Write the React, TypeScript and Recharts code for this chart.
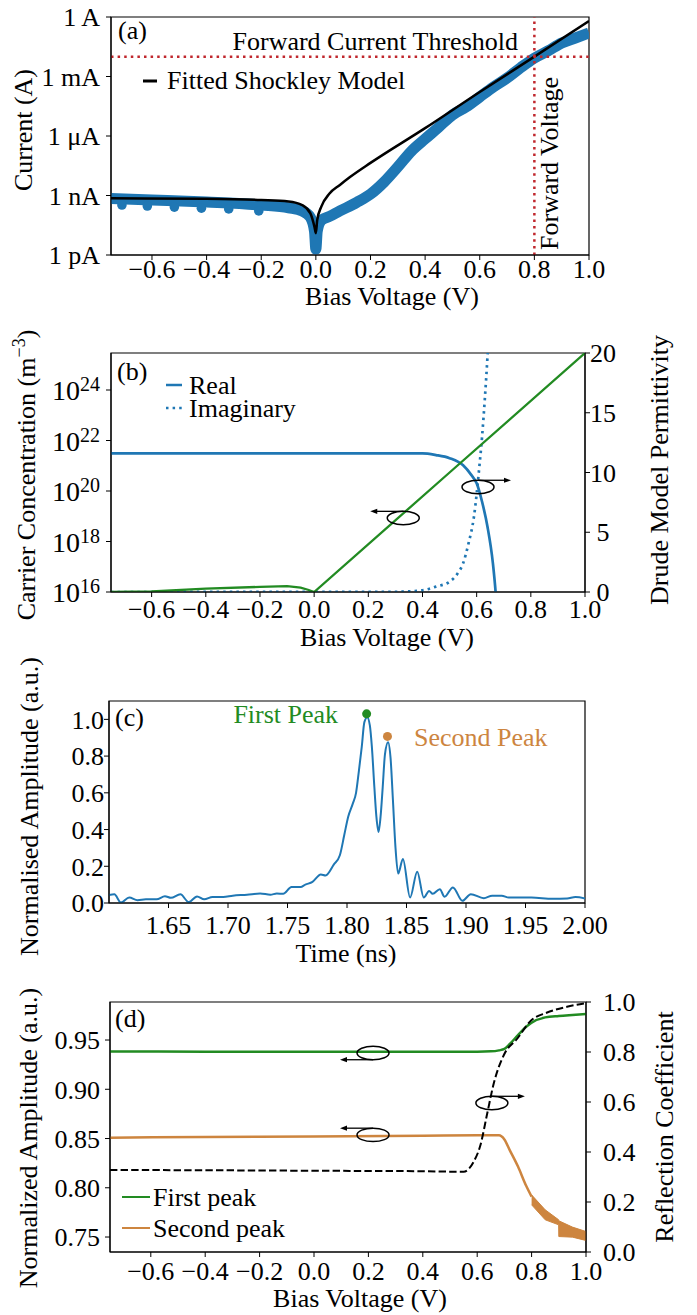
import React from 'react';
import {
  ComposedChart,
  Line,
  Area,
  XAxis,
  YAxis,
  ReferenceLine,
  ReferenceArea,
  ReferenceDot,
  Legend,
} from 'recharts';

const FONT = '"Liberation Serif", "Times New Roman", Times, serif';
const FS = 26;
const BLUE = '#1f77b4';
const GREEN = '#228b22';
const ORANGE = '#cd853f';
const RED = '#c0272d';

// ---------------- Panel (a): I-V curve ----------------
const biasDomain = [-0.75, 1.0];
const biasTicks = [-0.6, -0.4, -0.2, 0, 0.2, 0.4, 0.6, 0.8, 1.0];
const currentDomain = [1e-12, 1];
const currentTicks = [1e-12, 1e-9, 1e-6, 1e-3, 1];
const currentTickLabels = ['1 pA', '1 nA', '1 μA', '1 mA', '1 A'];
const measuredV = [-0.75, -0.6, -0.4, -0.2, -0.1, -0.05, -0.02, -0.005, 0, 0.005, 0.02, 0.05, 0.088, 0.15, 0.2, 0.25, 0.3, 0.35, 0.4, 0.45, 0.5, 0.55, 0.6, 0.65, 0.7, 0.75, 0.8, 0.85, 0.9, 0.95, 1.0];
const measuredI = [7.1e-10, 6.0e-10, 4.7e-10, 3.3e-10, 2.4e-10, 1.66e-10, 7.9e-11, 1.6e-11, 2.0e-12, 1.6e-11, 5.6e-11, 8.9e-11, 1.66e-10, 4.5e-10, 1.17e-9, 4.8e-9, 2.75e-8, 1.74e-7, 7.1e-7, 2.8e-6, 1.15e-5, 2.9e-5, 9.3e-5, 2.95e-4, 8.3e-4, 2.8e-3, 8.5e-3, 1.95e-2, 4.9e-2, 8.7e-2, 0.158];
const measuredDotV = [-0.71, -0.617, -0.518, -0.419, -0.319, -0.209];
const measuredDotI = [3.3e-10, 2.95e-10, 2.6e-10, 2.3e-10, 2.1e-10, 1.66e-10];
const fitV = [-0.75, -0.4, -0.2, -0.1, -0.05, -0.02, -0.005, 0, 0.005, 0.02, 0.05, 0.088, 0.125, 0.2, 0.4, 0.6, 0.8, 1.0];
const fitI = [7.2e-10, 6.8e-10, 5.9e-10, 5.0e-10, 3.3e-10, 1.26e-10, 2.6e-11, 1.26e-11, 5.8e-11, 2.75e-10, 1.26e-9, 3.4e-9, 8.5e-9, 4.4e-8, 2.5e-6, 1.66e-4, 1.0e-2, 0.63];
const thresholdCurrent = 0.01;
const forwardVoltage = 0.8;

// ---------------- Panel (b): carrier concentration & permittivity ----------------
const concDomain = [1e16, 2.92e25];
const concTicks = [1e16, 1e18, 1e20, 1e22, 1e24];
const permDomain = [0, 20];
const permTicks = [0, 5, 10, 15, 20];
const concV = [-0.75, -0.6, -0.4, -0.2, -0.1, -0.05, -0.02, 0, 0.5, 1.0];
const concN = [1.0e16, 1.05e16, 1.35e16, 1.6e16, 1.7e16, 1.5e16, 1.2e16, 1.0e16, 5.4e20, 2.92e25];
const realV = [-0.75, 0.4, 0.45, 0.5, 0.55, 0.58, 0.6, 0.62, 0.64, 0.66, 0.67, 0.69];
const realEps = [11.6, 11.6, 11.46, 11.2, 10.6, 9.8, 9.1, 7.55, 5.46, 2.4, 0, -8];
const imagV = [-0.75, 0.3, 0.4, 0.45, 0.5, 0.53, 0.55, 0.57, 0.59, 0.61, 0.62, 0.63, 0.64, 0.65];
const imagEps = [0, 0.02, 0.14, 0.45, 0.86, 1.56, 2.4, 4.07, 6.3, 10.5, 13.0, 16.1, 19.7, 24];
const permLegendOrder = ['Real', 'Imaginary'];
const concNoteV = 0.329;
const concNoteN = 8.5e18;
const permNoteV = 0.605;
const permNoteEps = 8.79;

// ---------------- Panel (c): time-domain waveform ----------------
const timeDomain = [1.6, 2.0];
const timeTicks = [1.65, 1.7, 1.75, 1.8, 1.85, 1.9, 1.95, 2.0];
const ampDomain = [0, 1.1];
const ampTicks = [0, 0.2, 0.4, 0.6, 0.8, 1.0];
const waveT = [1.6, 1.6045, 1.61, 1.617, 1.624, 1.631, 1.64, 1.647, 1.652, 1.66, 1.667, 1.674, 1.68, 1.687, 1.696, 1.704, 1.716, 1.727, 1.7356, 1.741, 1.7464, 1.7534, 1.761, 1.765, 1.771, 1.778, 1.782, 1.789, 1.794, 1.7977, 1.801, 1.8048, 1.8076, 1.81, 1.8124, 1.8146, 1.817, 1.8192, 1.8209, 1.823, 1.8247, 1.8265, 1.8282, 1.83, 1.8319, 1.8345, 1.8366, 1.8386, 1.8407, 1.843, 1.847, 1.853, 1.859, 1.8645, 1.869, 1.872, 1.878, 1.882, 1.889, 1.897, 1.904, 1.915, 1.922, 1.93, 1.936, 1.955, 1.9728, 1.985, 1.992, 2.0];
const waveA = [0.043, 0.047, 0.003, 0.03, 0.015, 0.02, 0.02, 0.037, 0.028, 0.047, 0.005, 0.036, 0.02, 0.033, 0.033, 0.04, 0.045, 0.052, 0.045, 0.052, 0.05, 0.087, 0.087, 0.1, 0.115, 0.155, 0.15, 0.21, 0.26, 0.37, 0.47, 0.54, 0.6, 0.72, 0.85, 0.985, 1.012, 0.967, 0.85, 0.63, 0.47, 0.387, 0.47, 0.63, 0.81, 0.876, 0.79, 0.56, 0.306, 0.16, 0.24, 0.03, 0.17, 0.03, 0.066, 0.05, 0.075, 0.034, 0.085, 0.012, 0.048, 0.026, 0.04, 0.04, 0.03, 0.03, 0.023, 0.025, 0.032, 0.025];
const firstPeakT = 1.8165;
const firstPeakA = 1.03;
const secondPeakT = 1.834;
const secondPeakA = 0.907;

// ---------------- Panel (d): peak amplitudes & reflection ----------------
const normDomain = [0.7348, 0.9886];
const normTicks = [0.75, 0.8, 0.85, 0.9, 0.95];
const reflDomain = [0, 1];
const reflTicks = [0, 0.2, 0.4, 0.6, 0.8, 1.0];
const firstV = [-0.75, -0.4, 0, 0.4, 0.6, 0.65, 0.68, 0.7, 0.72, 0.75, 0.78, 0.8, 0.85, 0.9, 0.95, 1.0];
const firstA = [0.9383, 0.9382, 0.938, 0.9381, 0.9382, 0.9385, 0.9395, 0.941, 0.946, 0.955, 0.9635, 0.9676, 0.973, 0.9745, 0.9755, 0.9764];
const secondV = [-0.75, -0.4, 0, 0.4, 0.6, 0.68, 0.7, 0.72, 0.75, 0.78, 0.8];
const secondA = [0.8509, 0.8515, 0.852, 0.8528, 0.8532, 0.8532, 0.849, 0.838, 0.8215, 0.802, 0.791];
const secondBandV = [0.8, 0.85, 0.8995, 0.9, 0.95, 1.0];
const secondBandHi = [0.7928, 0.7776, 0.7675, 0.7665, 0.7601, 0.7556];
const secondBandLo = [0.7827, 0.7675, 0.7624, 0.7505, 0.7499, 0.7465];
const reflV = [-0.75, -0.4, 0, 0.4, 0.55, 0.587, 0.612, 0.637, 0.661, 0.698, 0.747, 0.8, 0.855, 0.93, 1.0];
const reflR = [0.328, 0.327, 0.325, 0.323, 0.321, 0.361, 0.428, 0.555, 0.675, 0.788, 0.853, 0.928, 0.957, 0.981, 0.995];
const peakLegendOrder = ['First peak', 'Second peak'];
const firstNoteV = 0.217;
const firstNoteA = 0.9368;
const secondNoteV = 0.217;
const secondNoteA = 0.8537;
const reflNoteV = 0.654;
const reflNoteR = 0.596;

// ---------------- helpers ----------------
const rows = (xs: number[], ys: number[]) => xs.map((x, i) => ({ x, y: ys[i] }));
const bandRows = (xs: number[], lo: number[], hi: number[]) => xs.map((x, i) => ({ x, band: [lo[i], hi[i]] }));
const fmt = (d: number) => (v: number) => (v < 0 ? '\u2212' : '') + Math.abs(v).toFixed(d);
const tickStyle = { fill: '#000', fontSize: FS, fontFamily: FONT };

const currentFmt = (v: number) => {
  const idx = currentTicks.findIndex((t) => Math.abs(Math.log10(t) - Math.log10(v)) < 0.01);
  return idx >= 0 ? currentTickLabels[idx] : '';
};

const PowTick = (props: any) => {
  const { x, y, payload } = props;
  const e = Math.round(Math.log10(payload.value));
  return (
    <text x={x} y={y + 10} textAnchor="end" fontFamily={FONT} fontSize={28} fill="#000">
      10
      <tspan dy={-9} fontSize={20}>
        {e}
      </tspan>
    </text>
  );
};

const CenterTick = (props: any) => {
  const { x, y, payload } = props;
  return (
    <text x={x + 11} y={y + 9} textAnchor="middle" fontFamily={FONT} fontSize={FS} fill="#000">
      {payload.value}
    </text>
  );
};

const vLabel = (content: React.ReactNode, baseX: number, shiftY: number) => (p: any) => {
  const vb = p.viewBox || {};
  const x = (vb.x ?? 0) + baseX;
  const y = (vb.y ?? 0) + (vb.height ?? 0) / 2 + shiftY;
  return (
    <text x={x} y={y} transform={`rotate(-90 ${x} ${y})`} textAnchor="middle" fontFamily={FONT} fontSize={FS} fill="#000">
      {content}
    </text>
  );
};

const hLabel = (text: string, fromBottom: number, shiftX: number) => (p: any) => {
  const vb = p.viewBox || {};
  return (
    <text
      x={(vb.x ?? 0) + (vb.width ?? 0) / 2 + shiftX}
      y={(vb.y ?? 0) + (vb.height ?? 0) - fromBottom}
      textAnchor="middle"
      fontFamily={FONT}
      fontSize={FS}
      fill="#000"
    >
      {text}
    </text>
  );
};

const corner = (text: string, dx: number, dy: number) => (p: any) => {
  const vb = p.viewBox || {};
  return (
    <text x={(vb.x ?? 0) + dx} y={(vb.y ?? 0) + dy} fontFamily={FONT} fontSize={FS} fill="#000">
      {text}
    </text>
  );
};

const ellipseArrow = (dir: number, side: number) => (props: any) => {
  const { cx, cy } = props;
  const rx = 16;
  const ry = 6.7;
  const ay = cy + side * ry;
  const tip = cx + dir * 33;
  return (
    <g>
      <ellipse cx={cx} cy={cy} rx={rx} ry={ry} fill="none" stroke="#000" strokeWidth={1.5} />
      <line x1={cx} y1={ay} x2={tip - dir * 5} y2={ay} stroke="#000" strokeWidth={1.3} />
      <polygon points={`${tip},${ay} ${tip - dir * 7},${ay - 2.6} ${tip - dir * 7},${ay + 2.6}`} fill="#000" />
    </g>
  );
};

const legendContent = (sampleW: number, gap: number, rowH: number, lineW: number, order?: string[]) => (props: any) => {
  let items = (props.payload || []).filter((p: any) => p.type !== 'none');
  if (order) {
    items = [...items].sort((a: any, b: any) => order.indexOf(String(a.value)) - order.indexOf(String(b.value)));
  }
  return (
    <div style={{ fontFamily: FONT, fontSize: FS, color: '#000' }}>
      {items.map((p: any, idx: number) => (
        <div key={idx} style={{ display: 'flex', alignItems: 'center', height: rowH, whiteSpace: 'nowrap', lineHeight: `${rowH}px` }}>
          <svg width={sampleW} height={10} style={{ marginRight: gap, display: 'block' }}>
            <line
              x1={0}
              y1={5}
              x2={sampleW}
              y2={5}
              stroke={p.color}
              strokeWidth={lineW}
              strokeDasharray={p.payload && p.payload.strokeDasharray ? p.payload.strokeDasharray : undefined}
            />
          </svg>
          <span>{p.value}</span>
        </div>
      ))}
    </div>
  );
};

// ---------------- panels ----------------
function PanelA() {
  return (
    <ComposedChart width={697} height={320} margin={{ top: 17, right: 108, bottom: 0, left: 0 }}>
      <XAxis
        type="number"
        dataKey="x"
        domain={biasDomain}
        allowDataOverflow
        ticks={biasTicks}
        interval={0}
        tickFormatter={fmt(1)}
        tickSize={5}
        tickMargin={0}
        height={65}
        stroke="#000"
        tick={tickStyle}
        label={hLabel('Bias Voltage (V)', 15, 42)}
      />
      <YAxis
        type="number"
        scale="log"
        domain={currentDomain}
        allowDataOverflow
        ticks={currentTicks}
        interval={0}
        tickFormatter={currentFmt}
        tickSize={5}
        tickMargin={6}
        width={111}
        stroke="#000"
        tick={tickStyle}
        label={vLabel('Current (A)', 32, -6)}
      />
      <ReferenceArea
        x1={biasDomain[0]}
        x2={biasDomain[1]}
        y1={currentDomain[0]}
        y2={currentDomain[1]}
        fill="none"
        fillOpacity={0}
        stroke="#000"
        strokeWidth={1.2}
        ifOverflow="visible"
        label={corner('(a)', 7, 22)}
      />
      <Line data={rows(measuredV, measuredI)} dataKey="y" type="monotone" stroke={BLUE} strokeWidth={11} dot={false} legendType="none" isAnimationActive={false} />
      <Line
        data={rows(measuredDotV, measuredDotI)}
        dataKey="y"
        stroke="none"
        dot={{ r: 4.8, fill: BLUE, stroke: 'none' }}
        legendType="none"
        isAnimationActive={false}
      />
      <Line data={rows(fitV, fitI)} dataKey="y" name="Fitted Shockley Model" type="monotone" stroke="#000" strokeWidth={2.5} dot={false} isAnimationActive={false} />
      <ReferenceLine
        y={thresholdCurrent}
        stroke={RED}
        strokeWidth={2.5}
        strokeDasharray="2.5 4.1"
        label={(p: any) => {
          const vb = p.viewBox || {};
          return (
            <text x={(vb.x ?? 0) + (vb.width ?? 0) - 71} y={(vb.y ?? 0) - 7} textAnchor="end" fontFamily={FONT} fontSize={FS} fill="#000">
              Forward Current Threshold
            </text>
          );
        }}
      />
      <ReferenceLine
        x={forwardVoltage}
        stroke={RED}
        strokeWidth={2.5}
        strokeDasharray="2.5 4.1"
        label={(p: any) => {
          const vb = p.viewBox || {};
          const x = (vb.x ?? 0) + 24;
          const y = (vb.y ?? 0) + (vb.height ?? 0) - 5;
          return (
            <text x={x} y={y} transform={`rotate(-90 ${x} ${y})`} fontFamily={FONT} fontSize={FS} fill="#000">
              Forward Voltage
            </text>
          );
        }}
      />
      <Legend layout="vertical" align="center" verticalAlign="middle" wrapperStyle={{ left: 143, top: 66 }} content={legendContent(14, 10, 30, 3)} />
    </ComposedChart>
  );
}

function PanelB() {
  return (
    <ComposedChart width={697} height={360} margin={{ top: 53, right: 0, bottom: 0, left: 0 }}>
      <XAxis
        type="number"
        dataKey="x"
        domain={biasDomain}
        allowDataOverflow
        ticks={biasTicks}
        interval={0}
        tickFormatter={fmt(1)}
        tickSize={5}
        tickMargin={3}
        height={68}
        stroke="#000"
        tick={tickStyle}
        label={hLabel('Bias Voltage (V)', 14, 39)}
      />
      <YAxis
        yAxisId="left"
        type="number"
        scale="log"
        domain={concDomain}
        allowDataOverflow
        ticks={concTicks}
        interval={0}
        tickSize={5}
        tickMargin={6}
        width={111}
        stroke="#000"
        tick={<PowTick />}
        label={vLabel(
          <>
            Carrier Concentration (m
            <tspan dy={-10} fontSize={18}>
              −3
            </tspan>
            <tspan dy={10}>)</tspan>
          </>,
          35,
          2.5,
        )}
      />
      <YAxis
        yAxisId="right"
        orientation="right"
        type="number"
        domain={permDomain}
        allowDataOverflow
        ticks={permTicks}
        interval={0}
        tickSize={5}
        tickMargin={2}
        width={112}
        stroke="#000"
        tick={<CenterTick />}
        label={vLabel('Drude Model Permittivity', 83, -2.5)}
      />
      <ReferenceArea
        yAxisId="left"
        x1={biasDomain[0]}
        x2={biasDomain[1]}
        y1={concDomain[0]}
        y2={concDomain[1]}
        fill="none"
        fillOpacity={0}
        stroke="#000"
        strokeWidth={1.2}
        ifOverflow="visible"
        label={corner('(b)', 6, 27)}
      />
      <Line yAxisId="right" data={rows(realV, realEps)} dataKey="y" name="Real" type="monotone" stroke={BLUE} strokeWidth={2.7} dot={false} isAnimationActive={false} />
      <Line
        yAxisId="right"
        data={rows(imagV, imagEps)}
        dataKey="y"
        name="Imaginary"
        type="monotone"
        stroke={BLUE}
        strokeWidth={2.7}
        strokeDasharray="2.5 4.1"
        dot={false}
        isAnimationActive={false}
      />
      <Line yAxisId="left" data={rows(concV, concN)} dataKey="y" type="linear" stroke={GREEN} strokeWidth={2.3} dot={false} legendType="none" isAnimationActive={false} />
      <ReferenceDot yAxisId="left" x={concNoteV} y={concNoteN} r={16} ifOverflow="visible" shape={ellipseArrow(-1, -1)} />
      <ReferenceDot yAxisId="right" x={permNoteV} y={permNoteEps} r={16} ifOverflow="visible" shape={ellipseArrow(1, -1)} />
      <Legend
        layout="vertical"
        align="center"
        verticalAlign="middle"
        wrapperStyle={{ left: 166, top: 73.5 }}
        content={legendContent(16, 7, 23, 2.5, permLegendOrder)}
      />
    </ComposedChart>
  );
}

function PanelC() {
  return (
    <ComposedChart width={697} height={330} margin={{ top: 61, right: 112, bottom: 0, left: 0 }}>
      <XAxis
        type="number"
        dataKey="x"
        domain={timeDomain}
        allowDataOverflow
        ticks={timeTicks}
        interval={0}
        tickFormatter={fmt(2)}
        tickSize={5}
        tickMargin={8}
        height={67}
        stroke="#000"
        tick={tickStyle}
        label={hLabel('Time (ns)', 8, -1)}
      />
      <YAxis
        type="number"
        domain={ampDomain}
        allowDataOverflow
        ticks={ampTicks}
        interval={0}
        tickFormatter={fmt(1)}
        tickSize={5}
        tickMargin={0}
        width={109}
        stroke="#000"
        tick={tickStyle}
        label={vLabel('Normalised Amplitude (a.u.)', 37.5, 4.5)}
      />
      <ReferenceArea
        x1={timeDomain[0]}
        x2={timeDomain[1]}
        y1={ampDomain[0]}
        y2={ampDomain[1]}
        fill="none"
        fillOpacity={0}
        stroke="#000"
        strokeWidth={1.2}
        ifOverflow="visible"
        label={corner('(c)', 6, 24.5)}
      />
      <Line data={rows(waveT, waveA)} dataKey="y" type="monotone" stroke={BLUE} strokeWidth={2} dot={false} legendType="none" isAnimationActive={false} />
      <ReferenceDot
        x={firstPeakT}
        y={firstPeakA}
        r={4.5}
        fill={GREEN}
        stroke="none"
        ifOverflow="visible"
        label={{ value: 'First Peak', position: 'left', offset: 24, fill: GREEN, fontSize: FS, fontFamily: FONT }}
      />
      <ReferenceDot
        x={secondPeakT}
        y={secondPeakA}
        r={4.5}
        fill={ORANGE}
        stroke="none"
        ifOverflow="visible"
        label={{ value: 'Second Peak', position: 'right', offset: 22, fill: ORANGE, fontSize: FS, fontFamily: FONT }}
      />
    </ComposedChart>
  );
}

function PanelD() {
  return (
    <ComposedChart width={697} height={350} margin={{ top: 37, right: 0, bottom: 0, left: 0 }}>
      <XAxis
        type="number"
        dataKey="x"
        domain={biasDomain}
        allowDataOverflow
        ticks={biasTicks}
        interval={0}
        tickFormatter={fmt(1)}
        tickSize={5}
        tickMargin={4.5}
        height={63}
        stroke="#000"
        tick={tickStyle}
        label={hLabel('Bias Voltage (V)', 8, 12)}
      />
      <YAxis
        yAxisId="left"
        type="number"
        domain={normDomain}
        allowDataOverflow
        ticks={normTicks}
        interval={0}
        tickFormatter={fmt(2)}
        tickSize={5}
        tickMargin={5}
        width={110}
        stroke="#000"
        tick={tickStyle}
        label={vLabel('Normalized Amplitude (a.u.)', 36.5, 11)}
      />
      <YAxis
        yAxisId="right"
        orientation="right"
        type="number"
        domain={reflDomain}
        allowDataOverflow
        ticks={reflTicks}
        interval={0}
        tickFormatter={fmt(1)}
        tickSize={5}
        tickMargin={12}
        width={111}
        stroke="#000"
        tick={tickStyle}
        label={vLabel('Reflection Coefficient', 87, 0)}
      />
      <ReferenceArea
        yAxisId="left"
        x1={biasDomain[0]}
        x2={biasDomain[1]}
        y1={normDomain[0]}
        y2={normDomain[1]}
        fill="none"
        fillOpacity={0}
        stroke="#000"
        strokeWidth={1.2}
        ifOverflow="visible"
        label={corner('(d)', 5, 25)}
      />
      <Line yAxisId="left" data={rows(firstV, firstA)} dataKey="y" name="First peak" type="monotone" stroke={GREEN} strokeWidth={2.5} dot={false} isAnimationActive={false} />
      <Line yAxisId="left" data={rows(secondV, secondA)} dataKey="y" name="Second peak" type="monotone" stroke={ORANGE} strokeWidth={2.5} dot={false} isAnimationActive={false} />
      <Area
        yAxisId="left"
        data={bandRows(secondBandV, secondBandLo, secondBandHi)}
        dataKey="band"
        type="linear"
        stroke={ORANGE}
        strokeWidth={1}
        fill={ORANGE}
        fillOpacity={1}
        legendType="none"
        isAnimationActive={false}
      />
      <Line
        yAxisId="right"
        data={rows(reflV, reflR)}
        dataKey="y"
        type="monotone"
        stroke="#000"
        strokeWidth={2}
        strokeDasharray="7.4 3.2"
        dot={false}
        legendType="none"
        isAnimationActive={false}
      />
      <ReferenceDot yAxisId="left" x={firstNoteV} y={firstNoteA} r={16} ifOverflow="visible" shape={ellipseArrow(-1, 1)} />
      <ReferenceDot yAxisId="left" x={secondNoteV} y={secondNoteA} r={16} ifOverflow="visible" shape={ellipseArrow(-1, -1)} />
      <ReferenceDot yAxisId="right" x={reflNoteV} y={reflNoteR} r={16} ifOverflow="visible" shape={ellipseArrow(1, -1)} />
      <Legend
        layout="vertical"
        align="center"
        verticalAlign="middle"
        wrapperStyle={{ left: 122, top: 216.5 }}
        content={legendContent(28, 3, 31, 2, peakLegendOrder)}
      />
    </ComposedChart>
  );
}

export default function App() {
  return (
    <div style={{ position: 'absolute', left: 0, top: 0, width: 697, height: 1315, background: '#fff', fontFamily: FONT, overflow: 'hidden' }}>
      <div style={{ position: 'absolute', left: 0, top: 0 }}>
        <PanelA />
      </div>
      <div style={{ position: 'absolute', left: 0, top: 300 }}>
        <PanelB />
      </div>
      <div style={{ position: 'absolute', left: 0, top: 640 }}>
        <PanelC />
      </div>
      <div style={{ position: 'absolute', left: 0, top: 965 }}>
        <PanelD />
      </div>
    </div>
  );
}
